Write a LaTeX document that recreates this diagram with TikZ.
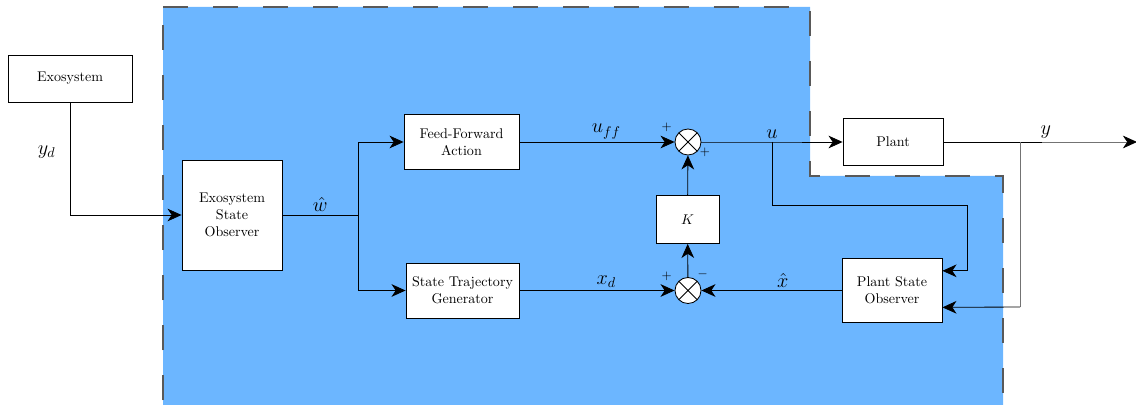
\documentclass[tikz,border=0pt]{standalone}
\usetikzlibrary{arrows.meta,positioning}

\definecolor{loopblue}{RGB}{108,182,255}

\tikzset{
  block/.style={draw, fill=white, semithick, align=center, inner sep=2pt},
  sumnode/.style={draw, fill=white, semithick, circle, minimum size=0.65cm, inner sep=0pt,
    path picture={\draw[semithick]
      (path picture bounding box.north west) -- (path picture bounding box.south east)
      (path picture bounding box.north east) -- (path picture bounding box.south west);}},
  sig/.style={font=\Large, inner sep=2pt},
  sign/.style={font=\small, inner sep=0pt},
  outwire/.style={black!55},
}

\begin{document}
\begin{tikzpicture}[x=0.025cm, y=-0.025cm, semithick,
    >={Stealth[length=10pt,width=9pt,inset=3pt,color=black]}]

            \useasboundingbox (0,0) rectangle (1136,405);

            % Controller region
            \draw[fill=loopblue, draw=black!65, line width=1pt, dash pattern=on 17.8pt off 17.8pt]
            (163,7) -- (810,7) -- (810,176) -- (1003,176) -- (1003,440) -- (163,440) -- cycle;

            % Blocks
            \node[block, minimum width=3.1cm, minimum height=1.175cm] (exo) at (70,78.5) {Exosystem};
            \node[block, minimum width=2.5cm, minimum height=2.75cm] (exoobs) at (232,215) {Exosystem\\State\\Observer};
            \node[block, minimum width=2.875cm, minimum height=1.375cm] (ff) at (461.5,142) {Feed-Forward\\Action};
            \node[block, minimum width=2.825cm, minimum height=1.375cm] (stg) at (462.5,290.5) {State Trajectory\\Generator};
            \node[block, minimum width=1.575cm, minimum height=1.2cm] (gain) at (687.5,219.5) {$K$};
            \node[block, minimum width=2.5cm, minimum height=1.175cm] (plant) at (893,142) {Plant};
            \node[block, minimum width=2.5cm, minimum height=1.6cm] (plantobs) at (892,290.5) {Plant State\\Observer};

            % Summing junctions
            \node[sumnode] (sumA) at (688,142) {};
            \node[sumnode] (sumB) at (688,290.5) {};

            % Signs
            \node[sign] at ([xshift=-15.2pt,yshift=10.1pt]sumA) {$+$};
            \node[sign] at ([xshift=12pt,yshift=-7.3pt]sumA) {$+$};
            \node[sign] at ([xshift=-15.2pt,yshift=10.4pt]sumB) {$+$};
            \node[sign] at ([xshift=10.4pt,yshift=11.2pt]sumB) {$-$};

            % Branch points
            \coordinate (wb) at (358,215);
            \coordinate (ub) at (772,142);
            \coordinate (yb) at (1020,142);
            \coordinate (ym) at (1042,142);
            \coordinate (yc) at (1020,307);
            \coordinate (yout) at (1137,142);

            % Signals
            \draw[->] (exo) |- node[sig, pos=0.22, left=8pt] {$y_d$} (exoobs);
            \draw (exoobs) -- node[sig, above] {$\hat{w}$} (wb);
            \draw[->] (wb) |- (ff);
            \draw[->] (wb) |- (stg);
            \draw[->] (ff) -- node[sig, above, pos=0.56] {$u_{ff}$} (sumA);
            \draw[->] (stg) -- node[sig, above, pos=0.56] {$x_d$} (sumB);
            \draw[->] (plantobs) -- node[sig, above, pos=0.42] {$\hat{x}$} (sumB);
            \draw[->] (sumB) -- (gain);
            \draw[->] (gain) -- (sumA);
            \draw[->] (sumA) -- (ub) node[sig, above] {$u$} -- (plant);
            \draw[->] (ub) |- (967,205) |- ([yshift=14pt]plantobs.east);

            % Plant output
            \draw[outwire, ->] (yb) -- node[sig, above, pos=0.22, black] {$y$} (yout);
            \draw (plant) -- (ym);
            \draw[outwire] (yb) -- (yc);
            \draw[->] (yc) -- ([yshift=-12pt]plantobs.east);

        \end{tikzpicture}
\end{document}
